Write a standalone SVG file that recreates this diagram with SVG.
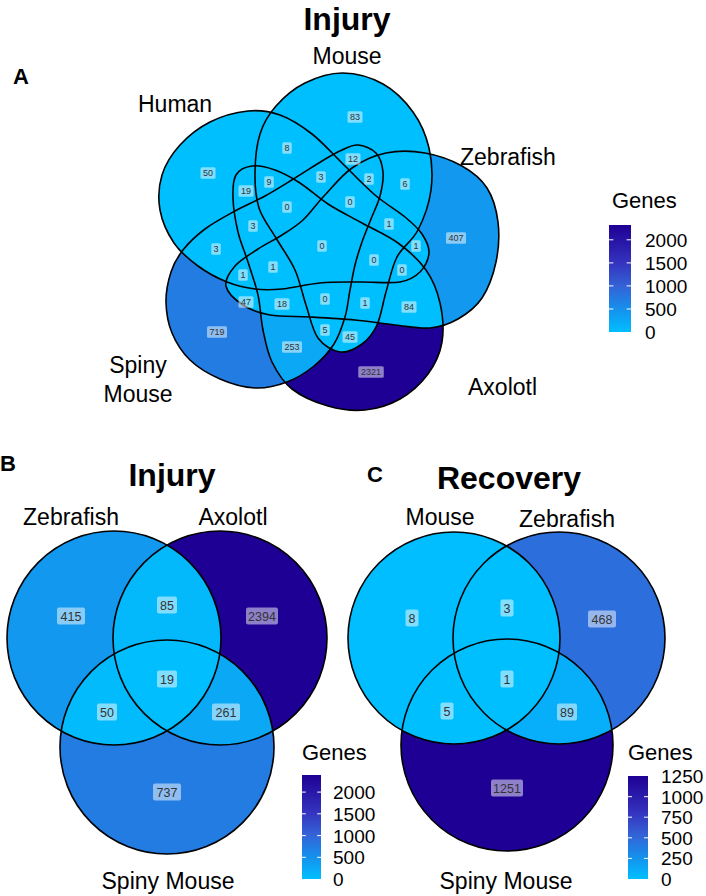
<svg xmlns="http://www.w3.org/2000/svg" width="706" height="896" viewBox="0 0 706 896">
<style>
.title{font-family:"Liberation Sans",Arial,sans-serif;font-weight:bold;font-size:32px;text-anchor:middle;fill:#000}
.panel{font-family:"Liberation Sans",Arial,sans-serif;font-weight:bold;font-size:22px;fill:#000}
.set{font-family:"Liberation Sans",Arial,sans-serif;font-size:23px;fill:#000}
.mid{text-anchor:middle}
.outline{fill:none;stroke:#000;stroke-width:1.6}
.cA rect,.cB rect{fill:#fff;fill-opacity:0.5}
.cA text{font-family:"Liberation Sans",Arial,sans-serif;font-size:9px;fill:#333;text-anchor:middle}
.cB text{font-family:"Liberation Sans",Arial,sans-serif;font-size:12.5px;fill:#333;text-anchor:middle}
.lgt{font-family:"Liberation Sans",Arial,sans-serif;font-size:22px;fill:#000}
.lgl{font-family:"Liberation Sans",Arial,sans-serif;font-size:19px;fill:#000}
.tick{stroke:#fff;stroke-width:1;fill:none}
</style>
<defs>
<path id="pM" d="M340,352 C332.7,351 323.7,345.8 318,338 S309.8,316.3 306,305 S300,281.2 295,270 S282,248.3 276,238 S262.5,219 259,208 S254.8,184.3 255,172 S256.5,145 260,134 S268.5,114.5 276,106 S293.8,88.5 305,83 S330,72.8 343,73 S371.3,77.5 383,84 S405.3,101.3 413,112 S426,135 429,148 S432.8,176.3 431,190 S423.7,218.8 418,230 S402.3,246.7 397,257 S389.3,280.7 386,292 S381,316.3 377,325 S368.2,339.5 362,344 S347.3,353 340,352 Z"/>
<path id="pH" d="M429,253 C428.7,259.3 424.8,267.2 420,272 S410,280.3 400,282 S373.3,281.8 360,282 S333,281.8 320,283 S292.8,288 282,289 S264.2,290.2 255,289 S236.5,285.8 227,282 S206.8,272.5 198,266 S180.3,252.3 174,243 S162,221.3 160,210 S158.7,185.8 162,175 S172,153.8 180,145 S198.7,127.7 210,122 S236.3,112.2 248,111 S269.3,111.2 280,115 S301.7,126 312,134 S331.5,152.8 342,163 S364.5,186 375,195 S397.2,210.5 405,217 S418,228 422,234 S429.3,246.7 429,253 Z"/>
<path id="pZ" d="M226,286 C224.7,279.5 229.7,272.2 235,266 S250.2,254.2 258,249 S274.5,239.8 282,235 S296,226.5 303,220 S315.8,204.7 324,196 S341.7,175.2 352,168 S373.8,155.5 386,153 S412.3,150.8 425,153 S451.7,160.2 462,166 S481,178.7 487,188 S496.5,209.7 498,222 S498.7,249.3 496,262 S488.3,288.5 482,298 S466.7,314 458,319 S440.5,327 430,328 S407.5,326.3 395,325 S369.2,321.3 355,320 S324.2,317.8 310,317 S281.2,317 270,315 S250.3,309.8 243,305 S227.3,292.5 226,286 Z"/>
<path id="pA" d="M236,175 C232.8,180.3 232.7,188.5 233,198 S235.5,221.3 238,232 S244.7,251.5 248,262 S255.5,283.7 258,295 S260.7,318.8 263,330 S267.2,352.2 272,362 S282.7,381.7 292,389 S315.8,402.5 328,406 S353,411.2 365,410 S389.5,405 400,399 S421,383.5 428,374 S440,353.8 442,342 S442.7,315 440,303 S433,280 426,270 S408.7,250.8 398,243 S373.7,229.5 362,223 S338.3,210.7 328,204 S308.8,188.7 300,183 S283,172.8 275,170 S258.5,165.2 252,166 S239.2,169.7 236,175 Z"/>
<path id="pS" d="M358,145 C363.7,145.5 371.8,148.5 376,153 S382.3,164.8 383,172 S382,188.2 380,196 S374,211.3 371,219 S364.7,234.3 362,242 S357,257 355,265 S351.7,281.3 350,290 S347.7,308 345,317 S339.2,335.8 334,344 S321.8,359.7 314,366 S296.8,378.3 287,382 S266.2,388.5 255,388 S230.8,383.7 220,379 S198,367.7 190,360 S176,342.7 172,333 S166.2,312.2 166,302 S168.2,280.7 171,272 S177.3,257.2 183,250 S196.3,235.5 205,229 S225,216.5 235,211 S255,201.5 265,196 S285.5,183.8 295,178 S314.2,165.7 322,161 S336,152.7 342,150 S352.3,144.5 358,145 Z"/>
<mask id="mOnlyZ" maskUnits="userSpaceOnUse" x="0" y="0" width="706" height="460"><rect width="706" height="460" fill="#fff"/><use href="#pH" fill="#000"/><use href="#pM" fill="#000"/><use href="#pA" fill="#000"/><use href="#pS" fill="#000"/></mask>
<mask id="mOnlyS" maskUnits="userSpaceOnUse" x="0" y="0" width="706" height="460"><rect width="706" height="460" fill="#fff"/><use href="#pH" fill="#000"/><use href="#pM" fill="#000"/><use href="#pA" fill="#000"/><use href="#pZ" fill="#000"/></mask>
<mask id="mOnlyA" maskUnits="userSpaceOnUse" x="0" y="0" width="706" height="460"><rect width="706" height="460" fill="#fff"/><use href="#pH" fill="#000"/><use href="#pM" fill="#000"/><use href="#pS" fill="#000"/><use href="#pZ" fill="#000"/></mask>
<mask id="mNoHMZ" maskUnits="userSpaceOnUse" x="0" y="0" width="706" height="460"><rect width="706" height="460" fill="#fff"/><use href="#pH" fill="#000"/><use href="#pM" fill="#000"/><use href="#pZ" fill="#000"/></mask>
<clipPath id="cS"><use href="#pS"/></clipPath>
<clipPath id="cBZ"><circle cx="114" cy="638" r="107"/></clipPath>
<clipPath id="cBA"><circle cx="220" cy="638" r="107"/></clipPath>
<clipPath id="cCM"><circle cx="454" cy="638" r="106"/></clipPath>
<clipPath id="cCZ"><circle cx="559" cy="638" r="106"/></clipPath>
<linearGradient id="gr" x1="0" y1="0" x2="0" y2="1">
<stop offset="0" stop-color="#1E0094"/>
<stop offset="0.35" stop-color="#3432BE"/>
<stop offset="0.57" stop-color="#3462D6"/>
<stop offset="0.785" stop-color="#1690EC"/>
<stop offset="1" stop-color="#00BFFF"/>
</linearGradient>
</defs>
<rect width="706" height="896" fill="#fff"/>

<!-- Panel A -->
<text class="panel" x="13" y="84">A</text>
<text class="title" x="347" y="30">Injury</text>
<g id="fills-a">
<use href="#pH" fill="#00BFFF"/><use href="#pM" fill="#00BFFF"/><use href="#pZ" fill="#00BFFF"/><use href="#pA" fill="#00BFFF"/><use href="#pS" fill="#00BFFF"/>
<use href="#pZ" fill="#1299EF" mask="url(#mOnlyZ)"/>
<use href="#pS" fill="#237CE2" mask="url(#mOnlyS)"/>
<use href="#pA" fill="#1E0094" mask="url(#mOnlyA)"/>
<g clip-path="url(#cS)"><use href="#pA" fill="#0BA8F6" mask="url(#mNoHMZ)"/></g>
</g>
<g id="set-human"><use href="#pH" class="outline"/><text class="set" x="138" y="112">Human</text></g>
<g id="set-mouse"><use href="#pM" class="outline"/><text class="set mid" x="347" y="64">Mouse</text></g>
<g id="set-zebrafish"><use href="#pZ" class="outline"/><text class="set" x="460" y="165">Zebrafish</text></g>
<g id="set-axolotl"><use href="#pA" class="outline"/><text class="set" x="468" y="395">Axolotl</text></g>
<g id="set-spiny"><use href="#pS" class="outline"/><text class="set mid" x="138" y="373">Spiny</text><text class="set mid" x="138" y="402">Mouse</text></g>
<g id="counts-a" class="cA">
<rect x="347.5" y="111.25" width="15" height="11.5" rx="1.5"/><text x="355" y="120.2">83</text>
<rect x="282.25" y="142.25" width="9.5" height="11.5" rx="1.5"/><text x="287" y="151.2">8</text>
<rect x="345.5" y="153.25" width="15" height="11.5" rx="1.5"/><text x="353" y="162.2">12</text>
<rect x="200.5" y="167.25" width="15" height="11.5" rx="1.5"/><text x="208" y="176.2">50</text>
<rect x="238.5" y="185.25" width="15" height="11.5" rx="1.5"/><text x="246" y="194.2">19</text>
<rect x="264.25" y="176.25" width="9.5" height="11.5" rx="1.5"/><text x="269" y="185.2">9</text>
<rect x="316.25" y="171.25" width="9.5" height="11.5" rx="1.5"/><text x="321" y="180.2">3</text>
<rect x="364.25" y="173.25" width="9.5" height="11.5" rx="1.5"/><text x="369" y="182.2">2</text>
<rect x="400.25" y="178.25" width="9.5" height="11.5" rx="1.5"/><text x="405" y="187.2">6</text>
<rect x="282.25" y="201.25" width="9.5" height="11.5" rx="1.5"/><text x="287" y="210.2">0</text>
<rect x="345.25" y="196.25" width="9.5" height="11.5" rx="1.5"/><text x="350" y="205.2">0</text>
<rect x="248.25" y="220.25" width="9.5" height="11.5" rx="1.5"/><text x="253" y="229.2">3</text>
<rect x="384.25" y="218.25" width="9.5" height="11.5" rx="1.5"/><text x="389" y="227.2">1</text>
<rect x="211.25" y="243.25" width="9.5" height="11.5" rx="1.5"/><text x="216" y="252.2">3</text>
<rect x="317.25" y="240.25" width="9.5" height="11.5" rx="1.5"/><text x="322" y="249.2">0</text>
<rect x="411.25" y="240.25" width="9.5" height="11.5" rx="1.5"/><text x="416" y="249.2">1</text>
<rect x="446" y="232.25" width="20" height="11.5" rx="1.5"/><text x="456" y="241.2">407</text>
<rect x="369.25" y="254.25" width="9.5" height="11.5" rx="1.5"/><text x="374" y="263.2">0</text>
<rect x="268.25" y="261.25" width="9.5" height="11.5" rx="1.5"/><text x="273" y="270.2">1</text>
<rect x="397.25" y="264.25" width="9.5" height="11.5" rx="1.5"/><text x="402" y="273.2">0</text>
<rect x="238.25" y="269.25" width="9.5" height="11.5" rx="1.5"/><text x="243" y="278.2">1</text>
<rect x="238.5" y="296.25" width="15" height="11.5" rx="1.5"/><text x="246" y="305.2">47</text>
<rect x="274.5" y="298.25" width="15" height="11.5" rx="1.5"/><text x="282" y="307.2">18</text>
<rect x="320.25" y="293.25" width="9.5" height="11.5" rx="1.5"/><text x="325" y="302.2">0</text>
<rect x="360.25" y="297.25" width="9.5" height="11.5" rx="1.5"/><text x="365" y="306.2">1</text>
<rect x="401.5" y="301.25" width="15" height="11.5" rx="1.5"/><text x="409" y="310.2">84</text>
<rect x="207" y="326.25" width="20" height="11.5" rx="1.5"/><text x="217" y="335.2">719</text>
<rect x="320.25" y="324.25" width="9.5" height="11.5" rx="1.5"/><text x="325" y="333.2">5</text>
<rect x="342.5" y="331.25" width="15" height="11.5" rx="1.5"/><text x="350" y="340.2">45</text>
<rect x="282" y="341.25" width="20" height="11.5" rx="1.5"/><text x="292" y="350.2">253</text>
<rect x="358.25" y="366.25" width="25.5" height="11.5" rx="1.5"/><text x="371" y="375.2">2321</text>
</g>
<g id="legend-a">
<text class="lgt" x="612" y="208">Genes</text>
<rect x="609" y="225" width="22" height="107" fill="url(#gr)"/>
<path class="tick" d="M609,309h4.4M626.6,309h4.4M609,285.9h4.4M626.6,285.9h4.4M609,262.9h4.4M626.6,262.9h4.4M609,239.8h4.4M626.6,239.8h4.4"/>
<text class="lgl" x="645" y="246.8">2000</text>
<text class="lgl" x="645" y="269.9">1500</text>
<text class="lgl" x="645" y="292.9">1000</text>
<text class="lgl" x="645" y="316">500</text>
<text class="lgl" x="645" y="339">0</text>
</g>

<!-- Panel B -->
<text class="panel" x="0" y="471">B</text>
<text class="title" x="172" y="486">Injury</text>
<g id="fills-b">
<circle cx="114" cy="638" r="107" fill="#1299EF"/>
<circle cx="220" cy="638" r="107" fill="#1E0094"/>
<circle cx="167" cy="747" r="107" fill="#237CE2"/>
<g clip-path="url(#cBA)"><circle cx="167" cy="747" r="107" fill="#0BA8F6"/></g>
<g clip-path="url(#cBZ)"><circle cx="220" cy="638" r="107" fill="#04B8FC"/></g>
<g clip-path="url(#cBZ)"><circle cx="167" cy="747" r="107" fill="#02BBFD"/></g>
<g clip-path="url(#cBZ)"><g clip-path="url(#cBA)"><circle cx="167" cy="747" r="107" fill="#01BEFF"/></g></g>
</g>
<g id="b-zebrafish"><circle cx="114" cy="638" r="107" class="outline"/><text class="set mid" x="71" y="525">Zebrafish</text></g>
<g id="b-axolotl"><circle cx="220" cy="638" r="107" class="outline"/><text class="set mid" x="233" y="525">Axolotl</text></g>
<g id="b-spiny"><circle cx="167" cy="747" r="107" class="outline"/><text class="set mid" x="168" y="889">Spiny Mouse</text></g>
<g id="counts-b" class="cB">
<rect x="57" y="607.5" width="28" height="17" rx="2"/><text x="71" y="620.5">415</text>
<rect x="157" y="596.5" width="20" height="17" rx="2"/><text x="167" y="609.5">85</text>
<rect x="246" y="607.5" width="32" height="17" rx="2"/><text x="262" y="620.5">2394</text>
<rect x="157" y="670.5" width="20" height="17" rx="2"/><text x="167" y="683.5">19</text>
<rect x="97" y="703.5" width="20" height="17" rx="2"/><text x="107" y="716.5">50</text>
<rect x="212" y="703.5" width="28" height="17" rx="2"/><text x="226" y="716.5">261</text>
<rect x="153" y="783.5" width="28" height="17" rx="2"/><text x="167" y="796.5">737</text>
</g>
<g id="legend-b">
<text class="lgt" x="302" y="760">Genes</text>
<rect x="302" y="775" width="19" height="104" fill="url(#gr)"/>
<path class="tick" d="M302,857.3h3.8M317.2,857.3h3.8M302,835.6h3.8M317.2,835.6h3.8M302,813.8h3.8M317.2,813.8h3.8M302,792.1h3.8M317.2,792.1h3.8"/>
<text class="lgl" x="333" y="799.1">2000</text>
<text class="lgl" x="333" y="820.8">1500</text>
<text class="lgl" x="333" y="842.6">1000</text>
<text class="lgl" x="333" y="864.3">500</text>
<text class="lgl" x="333" y="886">0</text>
</g>

<!-- Panel C -->
<text class="panel" x="367" y="482">C</text>
<text class="title" x="509" y="489">Recovery</text>
<g id="fills-c">
<circle cx="454" cy="638" r="106" fill="#00BEFF"/>
<circle cx="559" cy="638" r="106" fill="#2C6EDC"/>
<circle cx="507" cy="745" r="106" fill="#1E0094"/>
<g clip-path="url(#cCZ)"><circle cx="507" cy="745" r="106" fill="#07AEF9"/></g>
<g clip-path="url(#cCM)"><circle cx="559" cy="638" r="106" fill="#00BFFF"/></g>
<g clip-path="url(#cCM)"><circle cx="507" cy="745" r="106" fill="#00BFFF"/></g>
</g>
<g id="c-mouse"><circle cx="454" cy="638" r="106" class="outline"/><text class="set mid" x="440" y="525">Mouse</text></g>
<g id="c-zebrafish"><circle cx="559" cy="638" r="106" class="outline"/><text class="set mid" x="567" y="527">Zebrafish</text></g>
<g id="c-spiny"><circle cx="507" cy="745" r="106" class="outline"/><text class="set mid" x="506" y="889">Spiny Mouse</text></g>
<g id="counts-c" class="cB">
<rect x="405.5" y="609.5" width="13" height="17" rx="2"/><text x="412" y="622.5">8</text>
<rect x="500.5" y="599.5" width="13" height="17" rx="2"/><text x="507" y="612.5">3</text>
<rect x="588" y="610.5" width="28" height="17" rx="2"/><text x="602" y="623.5">468</text>
<rect x="500.5" y="670.5" width="13" height="17" rx="2"/><text x="507" y="683.5">1</text>
<rect x="440.5" y="702.5" width="13" height="17" rx="2"/><text x="447" y="715.5">5</text>
<rect x="557" y="703.5" width="20" height="17" rx="2"/><text x="567" y="716.5">89</text>
<rect x="491" y="779.5" width="32" height="17" rx="2"/><text x="507" y="792.5">1251</text>
</g>
<g id="legend-c">
<text class="lgt" x="628" y="760">Genes</text>
<rect x="628" y="776" width="20" height="103" fill="url(#gr)"/>
<path class="tick" d="M628,858.4h4M644,858.4h4M628,837.8h4M644,837.8h4M628,817.2h4M644,817.2h4M628,796.7h4M644,796.7h4"/>
<text class="lgl" x="661" y="783.1">1250</text>
<text class="lgl" x="661" y="803.7">1000</text>
<text class="lgl" x="661" y="824.2">750</text>
<text class="lgl" x="661" y="844.8">500</text>
<text class="lgl" x="661" y="865.4">250</text>
<text class="lgl" x="661" y="886">0</text>
</g>
</svg>
